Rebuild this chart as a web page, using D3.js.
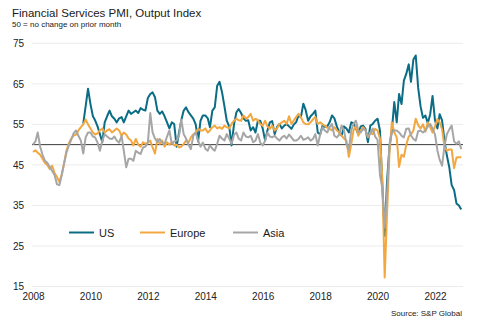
<!DOCTYPE html>
<meta charset="utf-8">
<style>

body {
  margin: 0;
  background: #fff;
}

svg {
  font-family: "Liberation Sans", Arial, sans-serif;
}

.axis text {
  fill: #222;
  font-size: 10px;
}

</style>
<svg id="chart" width="485" height="323"></svg>
<script src="https://d3js.org/d3.v7.min.js"></script>
<script>

// Monthly readings, Jan 2008 - Dec 2022 (US series starts Oct 2009).
var us = [
  // 2008
  null, null, null, null, null, null, null, null, null, null, null, null,
  // 2009
  null, null, null, null, null, null, null, null, null, 55.2, 59.5, 63.8,
  // 2010
  60.0, 57.0, 56.0, 54.5, 52.6, 50.6, 55.5, 57.0, 58.4, 57.0, 56.4, 55.5,
  // 2011
  56.5, 56.8, 55.5, 57.0, 58.4, 57.6, 58.0, 58.4, 57.8, 59.0, 58.6, 58.4,
  // 2012
  61.5, 62.5, 62.9, 61.7, 58.4, 57.6, 58.2, 57.0, 55.5, 54.0, 55.5, 55.1,
  // 2013
  49.5, 53.0, 56.0, 58.4, 59.2, 58.0, 57.2, 56.4, 55.0, 50.8, 55.9, 57.2,
  // 2014
  57.2, 56.5, 54.3, 58.4, 59.2, 64.5, 65.5, 63.0, 59.5, 55.9, 54.5, 49.8,
  // 2015
  55.0, 58.0, 58.8, 57.8, 56.5, 55.9, 56.0, 53.5, 54.3, 53.0, 55.9, 55.9,
  // 2016
  54.0, 51.0, 53.5, 55.5, 55.8, 52.6, 54.3, 55.1, 54.0, 54.7, 55.1, 54.5,
  // 2017
  53.9, 55.0, 55.5, 57.2, 56.8, 60.1, 58.5, 55.9, 57.0, 57.6, 58.4, 53.0,
  // 2018
  52.5, 54.7, 54.4, 54.5, 55.5, 57.2, 56.5, 54.5, 53.0, 52.2, 54.5, 54.0,
  // 2019
  53.0, 55.5, 55.3, 54.0, 52.6, 54.5, 54.7, 53.9, 50.6, 54.7, 55.1, 55.9,
  // 2020
  56.4, 53.5, 40.5, 27.5, 41.0, 49.5, 53.5, 60.5, 55.5, 62.5, 60.0, 65.8,
  // 2021
  67.5, 69.8, 65.5, 71.0, 72.0, 64.0, 59.5, 56.6, 57.2, 55.3, 57.5, 62.0,
  // 2022
  56.0, 54.0, 57.5, 56.0, 51.0, 47.3, 44.5, 40.0, 38.8, 35.5, 35.0, 34.0
];

var europe = [
  48.2, 48.6, 48.0, 47.5, 46.5, 45.5, 45.0, 44.0, 44.8, 43.0, 42.0, 40.8,
  42.7, 45.5, 48.5, 50.3, 51.5, 52.2, 52.5, 53.5, 54.3, 55.0, 56.2, 55.0,
  54.0, 53.0, 52.5, 52.8, 53.5, 54.0, 53.0, 53.5, 53.8, 53.0, 53.5, 54.0,
  53.5, 52.2, 53.0, 52.5, 51.5, 51.0, 49.8, 51.4, 50.0, 49.5, 50.6, 50.2,
  50.5, 51.0, 49.3, 47.8, 51.4, 50.2, 51.0, 49.5, 50.6, 50.0, 50.6, 49.8,
  50.0, 49.3, 49.5, 50.2, 51.0, 50.5, 51.8, 52.5, 53.0, 53.9, 53.5, 53.5,
  54.0, 53.0, 53.5, 54.3, 54.7, 54.0, 54.3, 53.9, 54.7, 54.3, 54.0, 55.1,
  55.9, 56.4, 56.0, 55.9, 57.2, 56.4, 56.8, 57.6, 55.9, 56.4, 56.0, 55.1,
  54.7, 55.9, 54.5, 53.9, 54.7, 53.5, 54.0, 55.1, 55.5, 55.9, 55.1, 57.0,
  55.1, 56.0, 56.8, 57.6, 56.8, 55.5, 55.1, 55.0, 55.5, 56.2, 56.8, 55.1,
  55.5, 55.0, 54.7, 54.2, 53.9, 53.5, 54.3, 53.5, 53.0, 52.2, 51.5, 51.0,
  47.0, 50.2, 53.5, 54.7, 52.2, 53.5, 54.3, 53.5, 51.8, 53.0, 52.6, 53.9,
  53.5, 51.5, 42.0, 17.2, 33.0, 48.0, 55.5, 53.0, 51.8, 44.5, 47.5, 47.0,
  50.0, 52.0, 52.5, 53.5, 56.4, 54.8, 54.0, 55.0, 53.2, 55.5, 54.3, 53.0,
  54.5, 56.3, 55.5, 53.8, 49.5, 48.5, 48.8, 48.8, 44.2, 46.8, 46.9, 46.9
];

var asia = [
  50.0, 50.8, 53.0, 49.5, 47.5, 46.0, 45.5, 44.5, 43.5, 42.5, 40.2, 40.0,
  42.5, 45.5, 48.0, 49.8, 51.2, 52.8, 53.5, 52.2, 51.0, 47.8, 51.8, 53.0,
  53.0, 52.0, 51.8, 50.5, 48.5, 51.0, 52.6, 52.0, 51.5, 51.4, 52.0, 51.0,
  50.5, 52.2, 48.5, 44.4, 46.5, 46.5, 46.0, 48.5, 48.0, 47.7, 49.3, 49.5,
  50.5, 57.8, 53.0, 51.5, 50.6, 51.4, 50.5, 50.2, 52.0, 53.5, 50.2, 50.8,
  51.0, 52.2, 56.2, 52.6, 51.5, 50.0, 48.9, 52.2, 53.0, 51.0, 49.5, 50.5,
  49.0, 48.5, 49.8, 49.0, 48.5, 50.2, 52.2, 51.5, 51.0, 52.6, 51.5, 50.2,
  52.4, 53.0, 51.5, 51.0, 53.0, 52.0, 51.8, 52.2, 50.6, 51.0, 52.6, 50.5,
  49.8, 51.0, 53.0, 52.0, 51.8, 52.2, 51.5, 51.0, 51.8, 52.2, 51.5, 52.5,
  51.8, 51.0, 51.0, 51.4, 52.2, 51.2, 51.4, 51.8, 51.0, 51.4, 52.6, 49.8,
  52.5, 54.3, 53.5, 53.0, 54.3, 55.1, 52.2, 51.8, 52.5, 54.7, 53.5, 50.2,
  48.8, 53.5, 55.1, 55.9, 53.5, 53.0, 53.9, 53.5, 52.0, 52.6, 54.0, 52.0,
  51.2, 42.5, 39.4, 29.5, 38.0, 50.0, 53.0, 53.5, 53.5, 53.0, 52.2, 51.8,
  53.9, 54.0, 52.3, 51.4, 51.0, 53.3, 53.5, 53.0, 53.5, 54.5, 55.1, 54.0,
  52.5, 48.5, 46.3, 44.8, 49.5, 52.6, 53.7, 54.7, 50.8, 50.2, 50.8, 48.9
];

var seriesNames = ["US", "Europe", "Asia"],
    seriesData = [us, europe, asia],
    seriesColors = ["#0b6c85", "#f2a740", "#a6a6a6"];

var yTicks = [15, 25, 35, 45, 55, 65, 75],
    xTicks = [2008, 2010, 2012, 2014, 2016, 2018, 2020, 2022];

var months = d3.timeMonth.range(new Date(2008, 0, 1), new Date(2023, 0, 1));

var svg = d3.select("svg");

var x = d3.scaleTime()
    .domain([new Date(2008, 0, 1), new Date(2022, 0, 1)])
    .range([33, 435]);

var y = d3.scaleLinear()
    .domain([15, 75])
    .range([286.5, 43.3]);

var left = 32,
    right = 463;

// titles
svg.append("text")
    .attr("x", 12)
    .attr("y", 16.5)
    .attr("font-size", 11.5)
    .attr("fill", "#1a1a1a")
    .text("Financial Services PMI, Output Index");

svg.append("text")
    .attr("x", 12)
    .attr("y", 27.3)
    .attr("font-size", 8)
    .attr("fill", "#1a1a1a")
    .text("50 = no change on prior month");

// gridlines
svg.append("g")
  .selectAll("line")
  .data(yTicks)
  .enter().append("line")
    .attr("x1", left)
    .attr("x2", right)
    .attr("y1", function(d) { return y(d); })
    .attr("y2", function(d) { return y(d); })
    .attr("stroke", "#ececec")
    .attr("stroke-width", 1);

// axes
svg.append("g")
    .attr("class", "axis")
    .attr("transform", "translate(" + left + ",0)")
    .call(d3.axisLeft(y).tickValues(yTicks).tickSize(0).tickPadding(8))
    .call(function(g) { g.select(".domain").remove(); });

svg.append("g")
    .attr("class", "axis")
    .attr("transform", "translate(0," + y(15) + ")")
    .call(d3.axisBottom(x)
        .tickValues(xTicks.map(function(d) { return new Date(d, 0, 1); }))
        .tickFormat(d3.timeFormat("%Y"))
        .tickSize(0)
        .tickPadding(6))
    .call(function(g) { g.select(".domain").remove(); });

svg.selectAll(".axis text")
    .attr("font-family", null)
    .attr("font-size", null);

// no-change line
svg.append("line")
    .attr("x1", left)
    .attr("x2", right)
    .attr("y1", y(50))
    .attr("y2", y(50))
    .attr("stroke", "#3a3a3a")
    .attr("stroke-width", 1);

var line = d3.line()
    .defined(function(d) { return d != null; })
    .x(function(d, i) { return x(months[i]); })
    .y(function(d) { return y(d); });

svg.append("g")
  .selectAll("path")
  .data(seriesData)
  .enter().append("path")
    .attr("fill", "none")
    .attr("stroke", function(d, i) { return seriesColors[i]; })
    .attr("stroke-width", 2)
    .attr("stroke-linejoin", "round")
    .attr("d", line);

// legend
var legendX = [69, 140, 233];

var legend = svg.append("g")
  .selectAll("g")
  .data(seriesNames)
  .enter().append("g")
    .attr("transform", function(d, i) { return "translate(" + legendX[i] + ",232.5)"; });

legend.append("line")
    .attr("x1", 0)
    .attr("x2", 25)
    .attr("stroke", function(d, i) { return seriesColors[i]; })
    .attr("stroke-width", 2);

legend.append("text")
    .attr("x", 30)
    .attr("y", 4)
    .attr("font-size", 11)
    .attr("fill", "#1a1a1a")
    .text(function(d) { return d; });

svg.append("text")
    .attr("x", 462)
    .attr("y", 316)
    .attr("text-anchor", "end")
    .attr("font-size", 8)
    .attr("fill", "#1a1a1a")
    .text("Source: S&P Global");

</script>
